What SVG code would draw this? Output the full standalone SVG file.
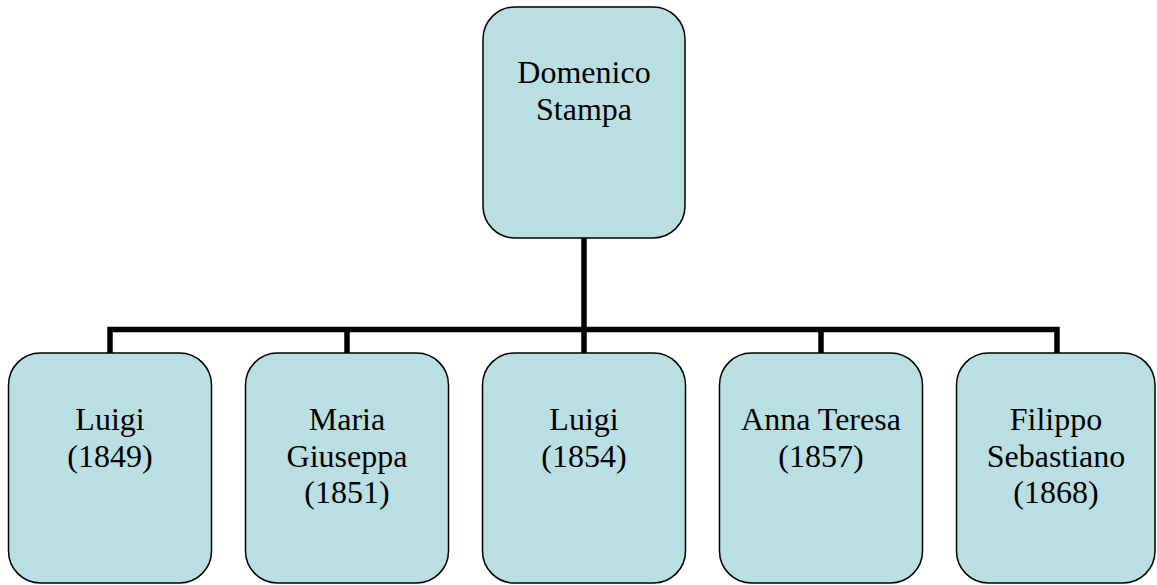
<svg xmlns="http://www.w3.org/2000/svg" width="1157" height="585" viewBox="0 0 1157 585">
<style>
.box{fill:#BADFE3;stroke:#000;stroke-width:1.5}
.t{font-family:"Liberation Serif","Times New Roman",serif;font-size:32px;fill:#000;text-anchor:middle}
.c{fill:none;stroke:#000;stroke-width:5.5}
</style>
<rect width="1157" height="585" fill="#fff"/>
<g id="connectors">
<path class="c" d="M584 238 V353"/>
<path class="c" d="M110 353 V329.5 H1057 V353"/>
<path class="c" d="M347 329.5 V353 M821 329.5 V353"/>
</g>
<g id="n0"><rect class="box" x="483" y="7" width="202" height="231" rx="32"/>
<text class="t" x="584" y="83">Domenico</text><text class="t" x="584" y="119.5">Stampa</text></g>
<g id="n1"><rect class="box" x="8.5" y="353" width="203" height="230" rx="32"/>
<text class="t" x="110" y="429.5">Luigi</text><text class="t" x="110" y="466.5">(1849)</text></g>
<g id="n2"><rect class="box" x="245.5" y="353" width="203" height="230" rx="32"/>
<text class="t" x="347" y="429.5">Maria</text><text class="t" x="347" y="466.5">Giuseppa</text><text class="t" x="347" y="503">(1851)</text></g>
<g id="n3"><rect class="box" x="482.5" y="353" width="203" height="230" rx="32"/>
<text class="t" x="584" y="429.5">Luigi</text><text class="t" x="584" y="466.5">(1854)</text></g>
<g id="n4"><rect class="box" x="719.5" y="353" width="203" height="230" rx="32"/>
<text class="t" x="821" y="429.5">Anna Teresa</text><text class="t" x="821" y="466.5">(1857)</text></g>
<g id="n5"><rect class="box" x="956.5" y="353" width="198.5" height="230" rx="32"/>
<text class="t" x="1056" y="429.5">Filippo</text><text class="t" x="1056" y="466.5">Sebastiano</text><text class="t" x="1056" y="503">(1868)</text></g>
</svg>
